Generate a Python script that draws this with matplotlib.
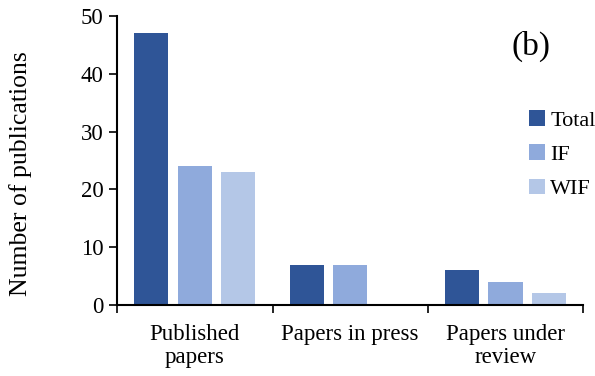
import numpy as np
import matplotlib
matplotlib.use("Agg")
import matplotlib.pyplot as plt

plt.rcParams['font.family'] = ['Liberation Serif', 'DejaVu Serif']

categories = ["Published\npapers", "Papers in press", "Papers under\nreview"]
series = ["Total", "IF", "WIF"]
total = [47, 7, 6]
impact = [24, 7, 4]
without_impact = [23, 0, 2]
colors = ["#2F5597", "#8FAADC", "#B4C7E7"]

fig = plt.figure(figsize=(5.95, 3.76), dpi=100)
ax = fig.add_axes([0.197, 0.189, 0.783, 0.768])

x = np.arange(len(categories))
width = 0.22
step = 0.28
for i, (name, vals) in enumerate(zip(series, [total, impact, without_impact])):
    ax.bar(x + (i - 1) * step, vals, width, color=colors[i], label=name)

ax.set_xlim(-0.5, len(categories) - 0.5)
ax.set_ylim(0, 50)
ax.set_yticks(range(0, 51, 10))
ax.set_xticks(x)
ax.set_xticklabels(categories, fontsize=16.5, linespacing=1.1)
ax.tick_params(axis='x', length=0, pad=14)
ax.set_xticks(np.arange(-0.5, len(categories), 1), minor=True)
ax.tick_params(axis='x', which='minor', length=6, width=1.2, direction='out')
ax.tick_params(axis='y', labelsize=16.5, length=6, width=1.2, direction='out', pad=4)

for s in ['top', 'right']:
    ax.spines[s].set_visible(False)
for s in ['left', 'bottom']:
    ax.spines[s].set_linewidth(1.5)

ax.set_ylabel("Number of publications", fontsize=18.5)
ax.yaxis.set_label_coords(-0.182, 0.453)

ax.text(0.847, 0.865, "(b)", transform=ax.transAxes, fontsize=24)

ax.legend(loc='upper left', bbox_to_anchor=(0.884, 0.675), frameon=False,
          fontsize=16, handlelength=0.7, handleheight=0.7, handletextpad=0.25,
          labelspacing=0.62, borderaxespad=0, borderpad=0)

fig.savefig("out.png", dpi=100)
